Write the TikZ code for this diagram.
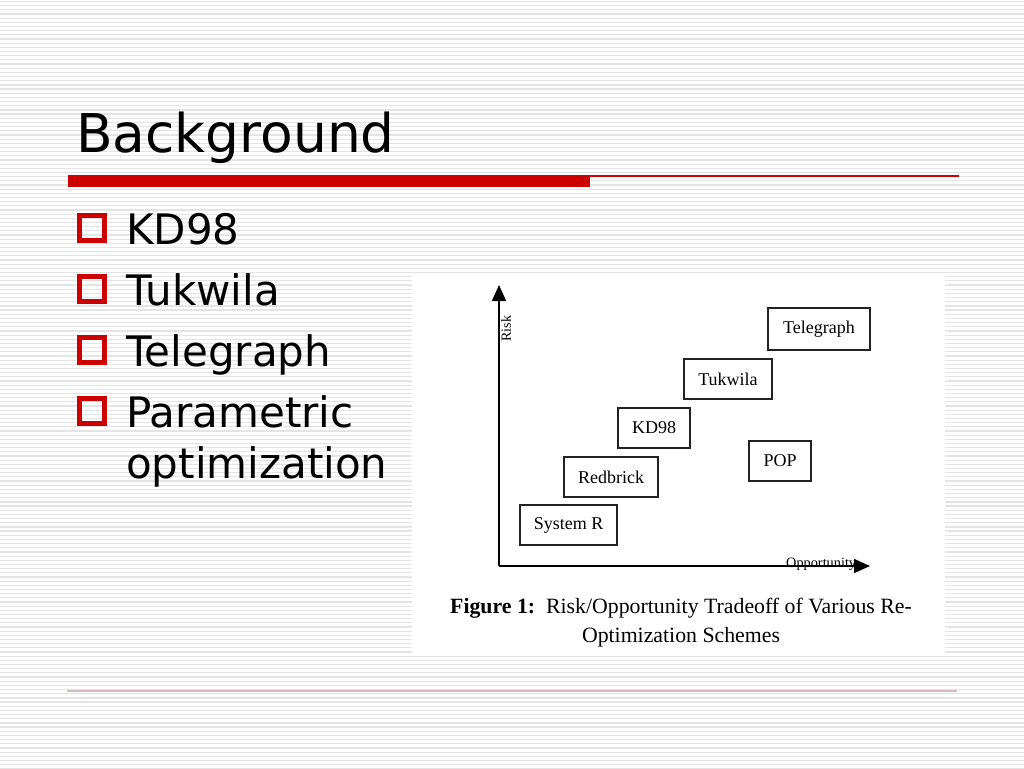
\documentclass[tikz,border=0pt]{standalone}
\usepackage{fontspec}
\setmainfont{Liberation Serif}
\newfontfamily\slidefont{DejaVu Sans}
\usetikzlibrary{arrows.meta}
\definecolor{slidered}{RGB}{204,0,0}
\definecolor{stripe}{RGB}{228,228,228}
\definecolor{footline}{RGB}{216,186,186}
\definecolor{boxline}{RGB}{34,34,34}
\tikzset{
  fig box/.style={draw=boxline, line width=1.4pt, fill=white, inner sep=0pt,
    font=\fontsize{18}{20}\selectfont},
  bulletsq/.style={draw=slidered, line width=4.2pt, minimum width=25pt, minimum height=25pt, inner sep=0pt},
  bullettext/.style={anchor=base west, inner sep=0pt, font=\slidefont\fontsize{42}{48}\selectfont},
  axis/.style={line width=1.6pt, draw=black, -{Triangle[length=16pt,width=14pt]}},
}
\begin{document}
\begin{tikzpicture}[x=1pt,y=-1pt]
\useasboundingbox (0,0) rectangle (1024,768);
\fill[white] (0,0) rectangle (1024,768);
% stripes
\foreach \i in {0,...,184}{
  \draw[stripe, line width=1.2pt] (0,{1.5+\i*4.17}) -- (1024,{1.5+\i*4.17});
}
% figure background
\fill[white] (412,273) rectangle (945,656);
% title
\node[anchor=base west, inner sep=0pt, font=\slidefont\fontsize{53.4}{60}\selectfont] (title) at (76,152) {Background};
\fill[slidered] (68,175) rectangle (590,187);
\draw[slidered, line width=1.5pt] (589,175.8) -- (959,175.8);
% bullets
\node[bulletsq] (b1) at (92,228) {};
\node[bulletsq] (b2) at (92,289) {};
\node[bulletsq] (b3) at (92,350) {};
\node[bulletsq] (b4) at (92,411) {};
\node[bullettext] (t1) at (126,244) {KD98};
\node[bullettext] (t2) at (126,305) {Tukwila};
\node[bullettext] (t3) at (126,366) {Telegraph};
\node[bullettext] (t4) at (126,427) {Parametric};
\node[bullettext] (t5) at (126,478) {optimization};
% figure
\coordinate (origin) at (499,566);
\coordinate (ytip) at (499,285);
\coordinate (xtip) at (870,566);
\draw[axis] (origin) -- (ytip);
\draw[axis] (origin) -- (xtip);
\node[rotate=90, inner sep=0pt, font=\fontsize{14}{16}\selectfont] (risk) at (506,328.5) {Risk};
\node[anchor=base west, inner sep=0pt, font=\fontsize{14.3}{16}\selectfont] (opp) at (786,567) {Opportunity};
\node[fig box, minimum width=102pt, minimum height=42pt] (telegraph) at (819,329) {Telegraph};
\node[fig box, minimum width=88pt, minimum height=40pt] (tukwila) at (728,379) {Tukwila};
\node[fig box, minimum width=72pt, minimum height=40pt] (kd98) at (654,428) {KD98};
\node[fig box, minimum width=62pt, minimum height=40pt] (pop) at (780,461) {POP};
\node[fig box, minimum width=94pt, minimum height=40pt] (redbrick) at (611,477) {Redbrick};
\node[fig box, minimum width=97pt, minimum height=40pt] (systemr) at (568.5,525) {System R};
\node[anchor=base, inner sep=0pt, font=\fontsize{21.8}{24}\selectfont] (cap1) at (681,613) {\textbf{Figure 1:}\ \ Risk/Opportunity Tradeoff of Various Re-};
\node[anchor=base, inner sep=0pt, font=\fontsize{21.8}{24}\selectfont] (cap2) at (681,642) {Optimization Schemes};
% footer line
\draw[footline, line width=1.2pt] (67,691) -- (957,691);
\end{tikzpicture}
\end{document}
